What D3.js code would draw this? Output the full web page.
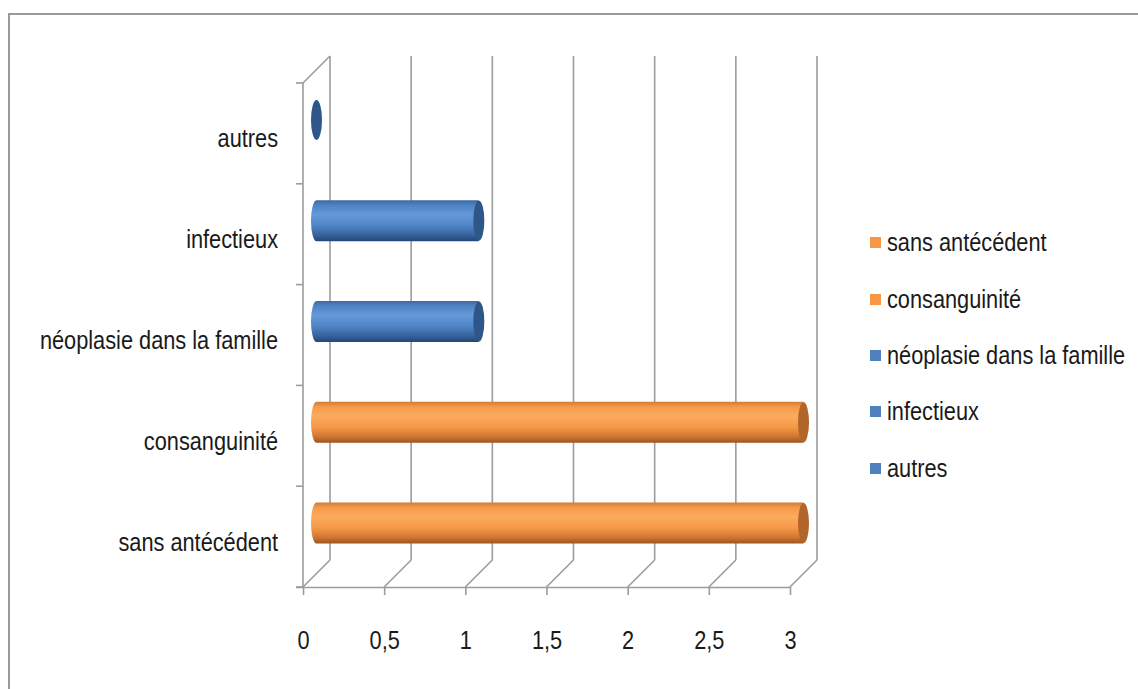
<!DOCTYPE html>
<html>
<head>
<meta charset="utf-8">
<script src="https://cdn.jsdelivr.net/npm/d3@7"></script>
<style>
  html, body { margin: 0; padding: 0; background: #fff; }
  svg text { font-family: "Liberation Sans Narrow", "Liberation Sans", sans-serif; fill: #1a1a1a; }
</style>
</head>
<body>
<svg id="chart" width="1138" height="689"></svg>
<script>
// Antécédents (effectifs)
const categories = ["sans antécédent", "consanguinité", "néoplasie dans la famille", "infectieux", "autres"];
const values = [3, 3, 1, 1, 0];
const groups = ["orange", "orange", "blue", "blue", "blue"];
const xTicks = [0, 0.5, 1, 1.5, 2, 2.5, 3];
const xTickLabels = ["0", "0,5", "1", "1,5", "2", "2,5", "3"];

const svg = d3.select("#chart");
const W = 1138, H = 689;
const FS = 25;        // label font size
const SX = 0.87;      // horizontal condensing of labels

// outer chart frame
svg.append("rect").attr("x", 9).attr("y", 14).attr("width", W + 20).attr("height", H + 20)
  .attr("fill", "none").attr("stroke", "#9a9a9a").attr("stroke-width", 2);

// 3D frame geometry
const depth = 27;
const plot = { left: 303, right: 790, top: 83, bottom: 587 };

const x = d3.scaleLinear().domain([0, 3]).range([plot.left, plot.right]);
const y = d3.scaleBand().domain(categories.slice().reverse()).range([plot.top, plot.bottom]).padding(0);

const grid = svg.append("g").attr("stroke", "#9c9c9c").attr("stroke-width", 1.6).attr("fill", "none");

// back wall vertical gridlines and floor diagonals
xTicks.forEach(t => {
  grid.append("line")
    .attr("x1", x(t) + depth).attr("x2", x(t) + depth)
    .attr("y1", plot.top - depth).attr("y2", plot.bottom - depth);
  grid.append("line")
    .attr("x1", x(t)).attr("y1", plot.bottom)
    .attr("x2", x(t) + depth).attr("y2", plot.bottom - depth);
});

// left wall: front edge and top diagonal
grid.append("line").attr("x1", x(0)).attr("x2", x(0)).attr("y1", plot.top).attr("y2", plot.bottom);
grid.append("line").attr("x1", x(0)).attr("y1", plot.top).attr("x2", x(0) + depth).attr("y2", plot.top - depth);

// front baseline with tick marks (horizontal axis)
const xAxis = d3.axisBottom(x).tickValues(xTicks).tickSize(8).tickFormat((d, i) => xTickLabels[i]);
const gx = svg.append("g").attr("transform", `translate(0,${plot.bottom})`).call(xAxis);
gx.select(".domain").attr("stroke", "#9c9c9c").attr("stroke-width", 1.6)
  .attr("d", `M${plot.left - 7},0.5H${plot.right}`);
gx.selectAll(".tick line").attr("stroke", "#9c9c9c").attr("stroke-width", 1.6);
gx.selectAll(".tick text").attr("font-size", FS).attr("dy", 0).attr("y", 62)
  .attr("transform", `scale(${SX},1)`)
  .style("font-family", "'Liberation Sans Narrow', sans-serif").attr("fill", "#1a1a1a");

// category axis on the left front edge
const yAxis = d3.axisLeft(y).tickSize(0).tickPadding(0);
const gy = svg.append("g").attr("transform", `translate(${plot.left},0)`).call(yAxis);
gy.select(".domain").remove();
gy.selectAll(".tick text").attr("font-size", FS).attr("dy", "0.56em")
  .attr("x", -25 / SX).attr("transform", `scale(${SX},1)`)
  .style("font-family", "'Liberation Sans Narrow', sans-serif").attr("fill", "#1a1a1a");
// category boundary ticks
const bounds = y.domain().map(c => y(c)).concat([plot.bottom]);
grid.selectAll("line.ctick").data(bounds).join("line").attr("class", "ctick")
  .attr("x1", plot.left - 7).attr("x2", plot.left).attr("y1", d => d).attr("y2", d => d);

// gradients for cylinder bodies
const defs = svg.append("defs");
const palette = {
  orange: { stops: [[0, "#d27a34"], [0.12, "#f59a4c"], [0.35, "#fcab5e"], [0.62, "#f59846"], [0.85, "#cf7632"], [1, "#9c5320"]], cap: "#b2652b", legend: "#f79646" },
  blue:   { stops: [[0, "#3b6aa6"], [0.12, "#4f82c3"], [0.35, "#6499da"], [0.62, "#4f84c6"], [0.85, "#37629d"], [1, "#234676"]], cap: "#2f5689", legend: "#4f81bd" }
};
Object.entries(palette).forEach(([k, p]) => {
  const g = defs.append("linearGradient").attr("id", "grad-" + k)
    .attr("x1", 0).attr("y1", 0).attr("x2", 0).attr("y2", 1);
  p.stops.forEach(([o, c]) => g.append("stop").attr("offset", o).attr("stop-color", c));
});

// cylinders sit halfway into the depth
const barH = 41, rx = 5.5;
const bars = svg.append("g");
categories.forEach((c, i) => {
  const v = values[i];
  const cy = y(c) + y.bandwidth() / 2 - depth / 2;
  const x0 = x(0) + depth / 2;
  const x1 = x(v) + depth / 2;
  const p = palette[groups[i]];
  const top = cy - barH / 2, bot = cy + barH / 2;
  if (v > 0) {
    const path = `M${x1},${top} L${x0},${top} A${rx},${barH / 2} 0 0 0 ${x0},${bot} L${x1},${bot} Z`;
    bars.append("path").attr("d", path).attr("fill", `url(#grad-${groups[i]})`);
  }
  bars.append("ellipse").attr("cx", x1).attr("cy", cy).attr("rx", rx).attr("ry", barH / 2 - 0.5)
    .attr("fill", p.cap);
});

// legend
const legend = svg.append("g");
const legendY = [242, 299, 355, 411, 468];
categories.forEach((c, i) => {
  legend.append("rect").attr("x", 870).attr("y", legendY[i] - 5).attr("width", 11).attr("height", 11)
    .attr("fill", palette[groups[i]].legend);
  legend.append("text").attr("x", 887 / SX).attr("y", legendY[i]).attr("dy", "0.38em")
    .attr("transform", `scale(${SX},1)`)
    .attr("font-size", FS).text(c);
});
</script>
</body>
</html>
